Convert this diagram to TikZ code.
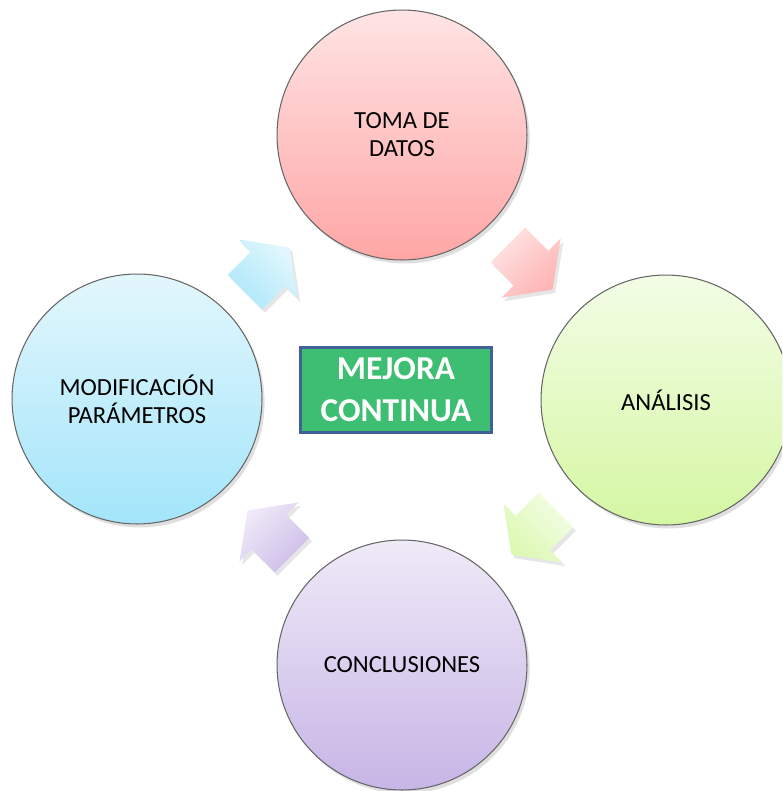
\documentclass[tikz,border=0pt]{standalone}
\usepackage{fontspec}
\setmainfont{Carlito}
\usetikzlibrary{shapes.arrows,shadows}
\definecolor{rosaA}{HTML}{FFE4E4}
\definecolor{rosaB}{HTML}{FFA6A6}
\definecolor{verdeA}{HTML}{F3FDE6}
\definecolor{verdeB}{HTML}{D5F7A3}
\definecolor{lilaA}{HTML}{EFEAF8}
\definecolor{lilaB}{HTML}{C7B5E6}
\definecolor{celesteA}{HTML}{E3F7FC}
\definecolor{celesteB}{HTML}{A3E5FB}
\definecolor{verdeCaja}{HTML}{3DBE72}
\definecolor{azulBorde}{HTML}{3F6197}

\begin{document}
\begin{tikzpicture}[x=0.02cm,y=-0.02cm]
        \tikzset{fase/.style = {shape=circle,draw=black!60,line width=0.6pt,minimum size=5cm,align=center,
                font=\fontsize{14}{16}\selectfont,drop shadow={opacity=0.25,shadow xshift=1.5pt,shadow yshift=-2pt}}}
        \tikzset{flecha/.style = {shape=single arrow,draw=none,inner xsep=0pt,inner ysep=0.48cm,minimum height=1.26cm,
                single arrow head extend=0.35cm,single arrow tip angle=108,
                drop shadow={opacity=0.2,shadow xshift=1.5pt,shadow yshift=-2pt}}}
        \clip (0,0) rectangle (782,791);
        % fases
        \node[fase,top color=rosaA,bottom color=rosaB] (toma) at (402,135) {TOMA DE\\DATOS};
        \node[fase,top color=verdeA,bottom color=verdeB] (analisis) at (666,400) {ANÁLISIS};
        \node[fase,top color=lilaA,bottom color=lilaB] (conclusiones) at (402,665) {CONCLUSIONES};
        \node[fase,top color=celesteA,bottom color=celesteB] (modificacion) at (137,399) {MODIFICACIÓN\\PARÁMETROS};
        % flechas (el tono oscuro queda abajo)
        \node[flecha,rotate=-45,top color=rosaA,bottom color=rosaB!85,shading angle=45] (f1) at (524,261) {};
        \node[flecha,rotate=-135,top color=verdeB!85,bottom color=verdeA,shading angle=135] (f2) at (540,526) {};
        \node[flecha,rotate=135,top color=lilaB!90,bottom color=lilaA,shading angle=-135] (f3) at (276,539) {};
        \node[flecha,rotate=45,top color=celesteA,bottom color=celesteB!90,shading angle=-45] (f4) at (261,276) {};
        % centro
        \node[draw=azulBorde,line width=1.2pt,fill=verdeCaja,minimum width=3.82cm,minimum height=1.7cm,align=center,
                text=white,font=\bfseries\fontsize{19}{24}\selectfont] (mejora) at (396,390) {MEJORA\\CONTINUA};
\end{tikzpicture}
\end{document}
